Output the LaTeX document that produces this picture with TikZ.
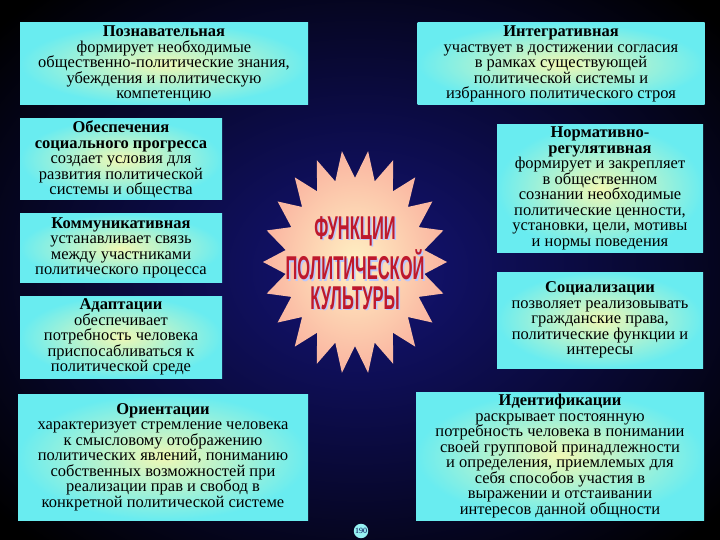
\documentclass[tikz,border=0pt]{standalone}
\usepackage{fontspec}
\setmainfont{Liberation Serif}
\newfontfamily\titlefont{Liberation Sans}
\usetikzlibrary{shadings}
\definecolor{bgc}{RGB}{20,20,120}
\definecolor{boxin}{RGB}{240,248,180}
\definecolor{boxout}{RGB}{105,236,240}
\definecolor{starin}{RGB}{255,240,195}
\definecolor{starout}{RGB}{250,180,160}
\definecolor{ttred}{RGB}{190,25,45}
\definecolor{ttshadow}{RGB}{185,200,255}
\tikzset{
  fbox/.style={shading=radial, inner color=boxin, outer color=boxout, align=center,
    inner sep=1pt, font=\fontsize{16.5}{15.5}\selectfont, text=black},
  ttl/.style={font=\titlefont\bfseries\fontsize{33}{33}\selectfont, inner sep=0pt},
}
\newcommand{\bt}[1]{\textbf{#1}}
\newcommand{\sq}[1]{\scalebox{0.5}[1]{#1}}
\begin{document}
\begin{tikzpicture}[x=1pt,y=-1pt]
\useasboundingbox (0,0) rectangle (720,540);
\shade[inner color=bgc, outer color=black] (-120,-100) rectangle (840,640);
% boxes
\node[fbox, minimum width=288pt, minimum height=82pt] (b1) at (164,64)
 {\bt{Познавательная}\\формирует необходимые\\общественно-политические знания,\\убеждения и политическую\\компетенцию};
\node[fbox, minimum width=287pt, minimum height=82pt] (b2) at (561,64)
 {\bt{Интегративная}\\участвует в достижении согласия\\в рамках существующей\\политической системы и\\избранного политического строя};
\node[fbox, minimum width=202pt, minimum height=81pt] (b3) at (121,159.5)
 {\bt{Обеспечения}\\\bt{социального прогресса}\\создает условия для\\развития политической\\системы и общества};
\node[fbox, minimum width=206pt, minimum height=127pt] (b4) at (600,188.5)
 {\bt{Нормативно-}\\\bt{регулятивная}\\формирует и закрепляет\\в общественном\\сознании необходимые\\политические ценности,\\установки, цели, мотивы\\и нормы поведения};
\node[fbox, minimum width=202pt, minimum height=68pt] (b5) at (121,248)
 {\bt{Коммуникативная}\\устанавливает связь\\между участниками\\политического процесса};
\node[fbox, minimum width=206pt, minimum height=96pt] (b6) at (600,320)
 {\bt{Социализации}\\позволяет реализовывать\\гражданские права,\\политические функции и\\интересы};
\node[fbox, minimum width=202pt, minimum height=82pt] (b7) at (121,337)
 {\bt{Адаптации}\\обеспечивает\\потребность человека\\приспосабливаться к\\политической среде};
\node[fbox, minimum width=290pt, minimum height=126pt] (b8) at (163,457)
 {\bt{Ориентации}\\характеризует стремление человека\\к смысловому отображению\\политических явлений, пониманию\\собственных возможностей при\\реализации прав и свобод в\\конкретной политической системе};
\node[fbox, minimum width=288pt, minimum height=128pt] (b9) at (560,456)
 {\bt{Идентификации}\\раскрывает постоянную\\потребность человека в понимании\\своей групповой принадлежности\\и определения, приемлемых для\\себя способов участия в\\выражении и отстаивании\\интересов данной общности};
% star
\shade[inner color=starin, outer color=starout]
  (355+92,262) \foreach \i in {1,...,43} {
    -- ({355+(mod(\i,2)==0 ? 92 : 70)*cos(\i*360/44)}, {262-(mod(\i,2)==0 ? 112 : 84)*sin(\i*360/44)}) } -- cycle;
\coordinate (sc) at (355,262);
\foreach \t/\yy in {ФУНКЦИИ/231, ПОЛИТИЧЕСКОЙ/265, КУЛЬТУРЫ/298} {
  \node[ttl, text=ttshadow] at (356.5,\yy+1.5) {\sq{\t}};
  \node[ttl, text=ttred] at (355,\yy) {\sq{\t}};
}
\node[circle, fill=boxout!70!white, inner sep=0.5pt, font=\fontsize{8}{8}\selectfont, text=black!70!blue] (pg) at (361,531) {190};
\end{tikzpicture}
\end{document}
